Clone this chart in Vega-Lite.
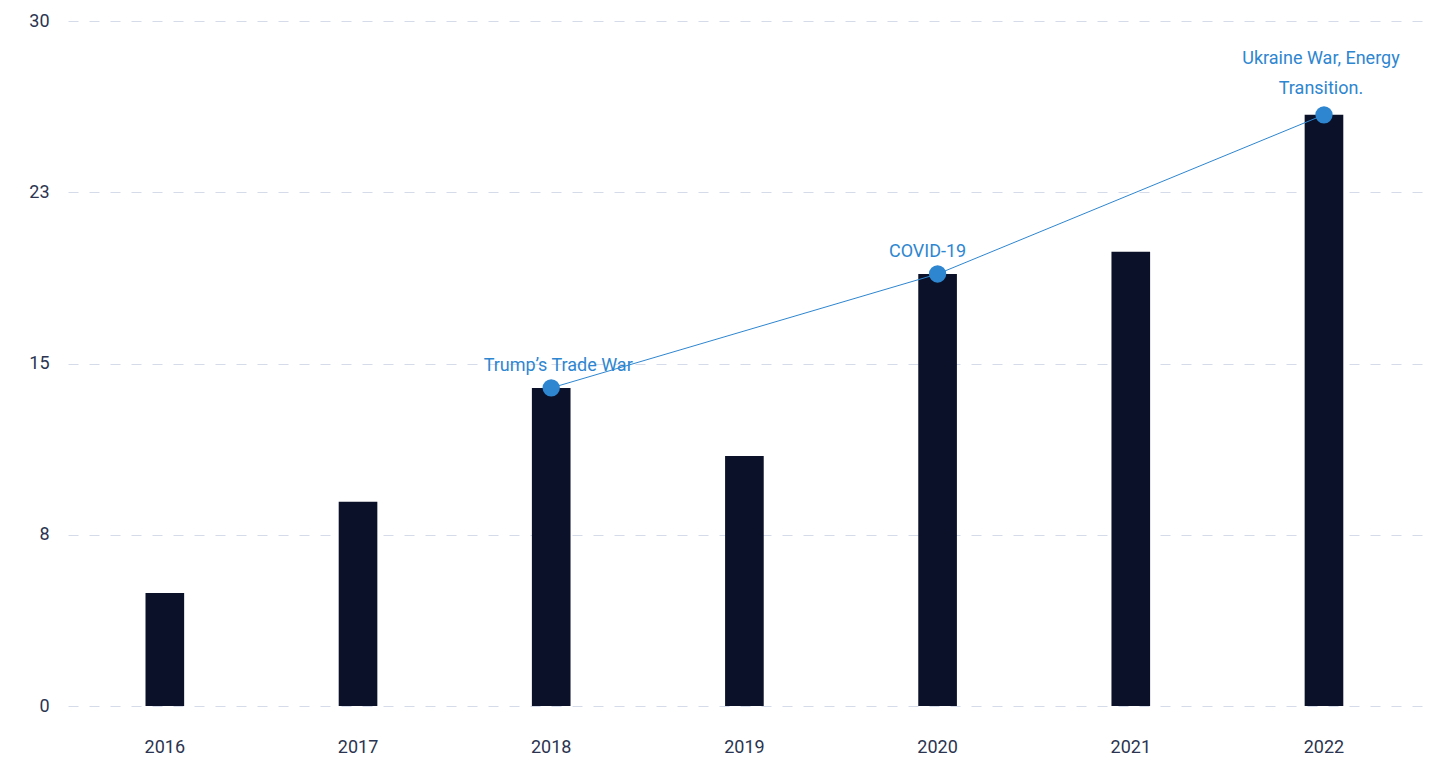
{
  "$schema": "https://vega.github.io/schema/vega-lite/v6.json",
  "autosize": "none",
  "padding": {"left": 68, "top": 21, "right": 12, "bottom": 54},
  "width": 1362,
  "height": 685,
  "background": "white",
  "config": {
    "view": {"stroke": null},
    "font": "Roboto",
    "axis": {"labelFont": "Roboto", "labelColor": "#2b3450", "labelFontSize": 18, "domain": false, "ticks": false, "title": null}
  },
  "data": {
    "values": [
      {"year": "2016", "value": 4.95, "label": null},
      {"year": "2017", "value": 8.94, "label": null},
      {"year": "2018", "value": 13.93, "label": "Trump’s Trade War"},
      {"year": "2019", "value": 10.95, "label": null},
      {"year": "2020", "value": 18.92, "label": "COVID-19"},
      {"year": "2021", "value": 19.89, "label": null},
      {"year": "2022", "value": 25.89, "label": "Ukraine War, Energy Transition."}
    ]
  },
  "encoding": {
    "x": {"field": "year", "type": "ordinal", "scale": {"paddingInner": 0.8, "paddingOuter": 0.425, "align": 0.472}, "axis": {"labelAngle": 0, "labelPadding": 32, "grid": false}},
    "y": {"field": "value", "type": "quantitative", "scale": {"domain": [0, 30], "nice": false}, "axis": {"values": [0, 7.5, 15, 22.5, 30], "format": ".0f", "labelPadding": 19, "gridColor": "#d5dbe8", "gridDash": [10, 11], "gridWidth": 1}}
  },
  "layer": [
    {"mark": {"type": "bar", "color": "#0a1128"}},
    {
      "transform": [{"filter": "datum.label != null"}],
      "mark": {"type": "line", "color": "#2e86d0", "strokeWidth": 1}
    },
    {
      "transform": [{"filter": "datum.label != null"}],
      "mark": {"type": "point", "filled": true, "opacity": 1, "color": "#2e86d0", "size": 300}
    },
    {
      "transform": [{"filter": "datum.year == '2018'"}],
      "mark": {"type": "text", "color": "#2e86d0", "fontSize": 18, "baseline": "alphabetic", "dy": -17, "dx": 7},
      "encoding": {"text": {"field": "label"}}
    },
    {
      "transform": [{"filter": "datum.year == '2020'"}],
      "mark": {"type": "text", "color": "#2e86d0", "fontSize": 18, "baseline": "alphabetic", "dy": -17, "dx": -10},
      "encoding": {"text": {"field": "label"}}
    },
    {
      "transform": [{"filter": "datum.year == '2022'"}],
      "mark": {"type": "text", "color": "#2e86d0", "fontSize": 18, "baseline": "alphabetic", "lineHeight": 30, "dy": -51, "dx": -3},
      "encoding": {"text": {"value": ["Ukraine War, Energy", "Transition."]}}
    }
  ]
}
